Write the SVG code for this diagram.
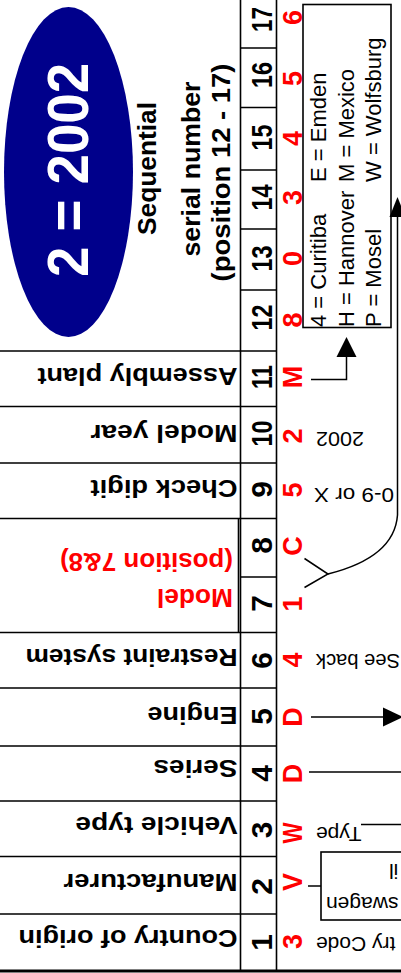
<svg xmlns="http://www.w3.org/2000/svg" width="401" height="973" viewBox="0 0 401 973">
<style>
.g{stroke:#000;stroke-width:1.6;fill:none}
.lbl{font-family:"Liberation Sans",Arial,sans-serif;font-weight:bold;font-size:24px;fill:#000}
.red{font-family:"Liberation Sans",Arial,sans-serif;font-weight:bold;font-size:26px;fill:#f00}
.num{font-family:"Liberation Sans",Arial,sans-serif;font-weight:bold;font-size:30px;fill:#000;text-anchor:middle}
.vin{font-family:"Liberation Sans",Arial,sans-serif;font-weight:bold;font-size:27px;fill:#f00;text-anchor:middle}
.ann{font-family:"Liberation Sans",Arial,sans-serif;font-size:21px;fill:#000;text-anchor:end}
.plant{font-family:"Liberation Sans",Arial,sans-serif;font-size:22px;fill:#000}
.hdr{font-family:"Liberation Sans",Arial,sans-serif;font-weight:bold;font-size:26px;fill:#000;text-anchor:middle}
.c{stroke:#000;stroke-width:1.5;fill:none}
.ah{fill:#000;stroke:none}
</style>
<rect width="401" height="973" fill="#fff"/>

<g id="year-badge">
  <ellipse cx="68.5" cy="172" rx="64.5" ry="165" fill="#00008b"/>
  <text transform="translate(88,170) rotate(-90)" text-anchor="middle" font-family="'Liberation Sans',Arial,sans-serif" font-weight="bold" font-size="57" fill="#fff" textLength="214" lengthAdjust="spacingAndGlyphs">2 = 2002</text>
</g>

<g id="serial-title">
  <text class="hdr" transform="translate(156,168.5) rotate(-90)" textLength="133" lengthAdjust="spacingAndGlyphs">Sequential</text>
  <text class="hdr" transform="translate(200,169) rotate(-90)" textLength="175" lengthAdjust="spacingAndGlyphs">serial number</text>
  <text class="hdr" transform="translate(230,172.5) rotate(-90)" textLength="218" lengthAdjust="spacingAndGlyphs">(position 12 - 17)</text>
</g>

<g id="grid">
  <line class="g" x1="240.5" y1="0" x2="240.5" y2="971" stroke-width="2"/>
  <line class="g" x1="276.5" y1="0" x2="276.5" y2="971"/>
  <line class="g" x1="238.5" y1="518.5" x2="238.5" y2="632.5" stroke-width="2.5"/>
  <path class="g" d="M0,351H276.5M0,406.5H276.5M0,463H276.5M0,518.5H276.5M0,632.5H276.5M0,688H276.5M0,746H276.5M0,801H276.5M0,856.5H276.5M0,914H276.5"/>
  <path class="g" d="M240.5,48H276.5M240.5,107.5H276.5M240.5,170H276.5M240.5,229H276.5M240.5,290H276.5M240.5,577H276.5"/>
  <line x1="0" y1="971" x2="401" y2="971" stroke="#000" stroke-width="3"/>
</g>

<g id="labels">
  <g id="label-11"><text class="lbl" transform="translate(237.5,368) rotate(180)" textLength="200" lengthAdjust="spacingAndGlyphs">Assembly plant</text></g>
  <g id="label-10"><text class="lbl" transform="translate(237.5,424.5) rotate(180)" textLength="147" lengthAdjust="spacingAndGlyphs">Model year</text></g>
  <g id="label-9"><text class="lbl" transform="translate(237.5,479.5) rotate(180)" textLength="147" lengthAdjust="spacingAndGlyphs">Check digit</text></g>
  <g id="label-7-8">
    <text class="red" transform="translate(233,589) rotate(180)" textLength="76" lengthAdjust="spacingAndGlyphs">Model</text>
    <text class="red" transform="translate(233,552.5) rotate(180)" textLength="173" lengthAdjust="spacingAndGlyphs">(position 7&amp;8)</text>
  </g>
  <g id="label-6"><text class="lbl" transform="translate(237.5,648.5) rotate(180)" textLength="212" lengthAdjust="spacingAndGlyphs">Restraint system</text></g>
  <g id="label-5"><text class="lbl" transform="translate(237.5,706.5) rotate(180)" textLength="90" lengthAdjust="spacingAndGlyphs">Engine</text></g>
  <g id="label-4"><text class="lbl" transform="translate(237.5,760) rotate(180)" textLength="84" lengthAdjust="spacingAndGlyphs">Series</text></g>
  <g id="label-3"><text class="lbl" transform="translate(237.5,816.5) rotate(180)" textLength="162" lengthAdjust="spacingAndGlyphs">Vehicle type</text></g>
  <g id="label-2"><text class="lbl" transform="translate(237.5,873.5) rotate(180)" textLength="174" lengthAdjust="spacingAndGlyphs">Manufacturer</text></g>
  <g id="label-1"><text class="lbl" transform="translate(237.5,929.5) rotate(180)" textLength="219" lengthAdjust="spacingAndGlyphs">Country of origin</text></g>
</g>

<g id="positions">
  <text class="num" transform="translate(272,19.5) rotate(-90)" textLength="25" lengthAdjust="spacingAndGlyphs">17</text>
  <text class="num" transform="translate(272,75) rotate(-90)" textLength="26" lengthAdjust="spacingAndGlyphs">16</text>
  <text class="num" transform="translate(272,137.5) rotate(-90)" textLength="26" lengthAdjust="spacingAndGlyphs">15</text>
  <text class="num" transform="translate(272,197.5) rotate(-90)" textLength="26" lengthAdjust="spacingAndGlyphs">14</text>
  <text class="num" transform="translate(272,258.5) rotate(-90)" textLength="26" lengthAdjust="spacingAndGlyphs">13</text>
  <text class="num" transform="translate(272,317.5) rotate(-90)" textLength="26" lengthAdjust="spacingAndGlyphs">12</text>
  <text class="num" transform="translate(272,377) rotate(-90)" textLength="24" lengthAdjust="spacingAndGlyphs">11</text>
  <text class="num" transform="translate(272,433.5) rotate(-90)" textLength="26" lengthAdjust="spacingAndGlyphs">10</text>
  <text class="num" transform="translate(272,489.5) rotate(-90)">9</text>
  <text class="num" transform="translate(272,545.5) rotate(-90)">8</text>
  <text class="num" transform="translate(272,603.5) rotate(-90)">7</text>
  <text class="num" transform="translate(272,660.5) rotate(-90)">6</text>
  <text class="num" transform="translate(272,716.5) rotate(-90)">5</text>
  <text class="num" transform="translate(272,773.5) rotate(-90)">4</text>
  <text class="num" transform="translate(272,830) rotate(-90)">3</text>
  <text class="num" transform="translate(272,886.5) rotate(-90)">2</text>
  <text class="num" transform="translate(272,942.5) rotate(-90)">1</text>
</g>

<g id="vin">
  <text class="vin" transform="translate(301.5,941.5) rotate(-90)">3</text>
  <text class="vin" transform="translate(301.5,882) rotate(-90)">V</text>
  <text class="vin" transform="translate(301.5,833) rotate(-90)" textLength="21" lengthAdjust="spacingAndGlyphs">W</text>
  <text class="vin" transform="translate(301.5,773.5) rotate(-90)">D</text>
  <text class="vin" transform="translate(301.5,717) rotate(-90)">D</text>
  <text class="vin" transform="translate(301.5,660) rotate(-90)">4</text>
  <text class="vin" transform="translate(301.5,604) rotate(-90)">1</text>
  <text class="vin" transform="translate(301.5,546) rotate(-90)">C</text>
  <text class="vin" transform="translate(301.5,490) rotate(-90)">5</text>
  <text class="vin" transform="translate(301.5,436) rotate(-90)">2</text>
  <text class="vin" transform="translate(301.5,377) rotate(-90)">M</text>
  <text class="vin" transform="translate(301.5,320) rotate(-90)">8</text>
  <text class="vin" transform="translate(301.5,258.5) rotate(-90)">0</text>
  <text class="vin" transform="translate(301.5,197.5) rotate(-90)">3</text>
  <text class="vin" transform="translate(301.5,138.5) rotate(-90)">4</text>
  <text class="vin" transform="translate(301.5,78.5) rotate(-90)">5</text>
  <text class="vin" transform="translate(301.5,17.5) rotate(-90)">6</text>
</g>

<g id="plant-codes">
  <rect x="303" y="4.5" width="88" height="323" fill="#fff" stroke="#000" stroke-width="1.6"/>
  <text class="plant" transform="translate(325.5,327) rotate(-90)">4 = Curitiba</text>
  <text class="plant" transform="translate(325.5,182) rotate(-90)">E = Emden</text>
  <text class="plant" transform="translate(353.5,327) rotate(-90)">H = Hannover</text>
  <text class="plant" transform="translate(353.5,182) rotate(-90)">M = Mexico</text>
  <text class="plant" transform="translate(381,327) rotate(-90)">P = Mosel</text>
  <text class="plant" transform="translate(381,182) rotate(-90)">W = Wolfsburg</text>
</g>

<g id="manufacturer-box">
  <rect x="321" y="852" width="92" height="68" fill="#fff" stroke="#000" stroke-width="1.6"/>
  <text class="ann" transform="translate(326,897) rotate(180)">swagen</text>
  <text class="ann" transform="translate(389,864) rotate(180)">il</text>
</g>

<g id="annotations">
  <text class="ann" transform="translate(316,937) rotate(180)">try Code</text>
  <text class="ann" transform="translate(316,827) rotate(180)">Type</text>
  <text class="ann" transform="translate(316,654) rotate(180)" textLength="84" lengthAdjust="spacingAndGlyphs">See back</text>
  <text class="ann" transform="translate(314,488) rotate(180)" textLength="80" lengthAdjust="spacingAndGlyphs">0-9 or X</text>
  <text class="ann" transform="translate(316,432) rotate(180)" textLength="48" lengthAdjust="spacingAndGlyphs">2002</text>
</g>

<g id="connectors">
  <path class="c" d="M311,379.5H346.5V356"/>
  <polygon class="ah" points="336.5,357 356.5,357 346.5,337"/>
  <path class="c" d="M311,717H385"/>
  <polygon class="ah" points="383,707.5 383,726.5 403,717"/>
  <path class="c" d="M309,772H401"/>
  <path class="c" d="M361,824.5H401"/>
  <path class="c" d="M308,886H321"/>
  <path class="c" d="M304.5,558.5L328,574L304.5,587.5"/>
  <path class="c" d="M328,574C360,566 395,550 397.5,515V216"/>
  <polygon class="ah" points="389.5,217 405.5,217 397.5,197"/>
</g>
</svg>
